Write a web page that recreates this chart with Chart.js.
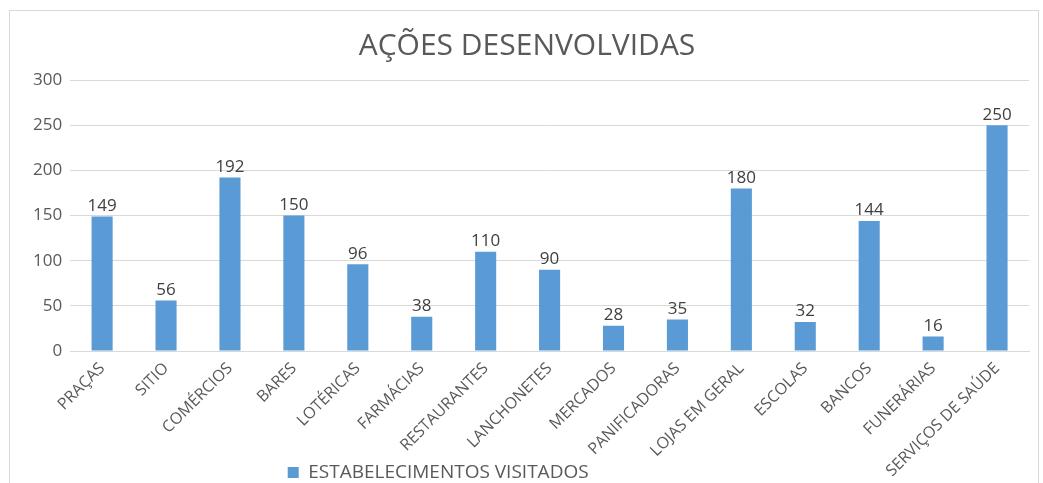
<!DOCTYPE html>
<html>
<head>
<meta charset="utf-8">
<script src="https://cdn.jsdelivr.net/npm/chart.js@4/dist/chart.umd.min.js"></script>
<style>
  html, body { margin: 0; padding: 0; background: #fff; }
  #wrap { width: 1043px; height: 483px; position: relative; }
</style>
</head>
<body>
<div id="wrap"><canvas id="c" width="1043" height="483"></canvas></div>
<script>
const categories = ['PRAÇAS', 'SITIO', 'COMÉRCIOS', 'BARES', 'LOTÉRICAS', 'FARMÁCIAS', 'RESTAURANTES',
  'LANCHONETES', 'MERCADOS', 'PANIFICADORAS', 'LOJAS EM GERAL', 'ESCOLAS', 'BANCOS', 'FUNERÁRIAS', 'SERVIÇOS DE SAÚDE'];
const visited = [149, 56, 192, 150, 96, 38, 110, 90, 28, 35, 180, 32, 144, 16, 250];
const yTicks = [0, 50, 100, 150, 200, 250, 300];

const FONT = "'Open Sans', 'Noto Sans', sans-serif";

// draws the number above each bar
const barValues = {
  id: 'barValues',
  afterDatasetsDraw(chart) {
    const ctx = chart.ctx;
    ctx.save();
    ctx.font = '17px ' + FONT;
    ctx.fillStyle = '#404040';
    ctx.textAlign = 'center';
    ctx.textBaseline = 'bottom';
    chart.getDatasetMeta(0).data.forEach((bar, i) => {
      ctx.fillText(String(visited[i]), bar.x, bar.y - 2);
    });
    ctx.restore();
  }
};

// light frame like the office chart area
const frame = {
  id: 'frame',
  beforeDraw(chart) {
    const ctx = chart.ctx;
    ctx.save();
    ctx.strokeStyle = '#d9d9d9';
    ctx.lineWidth = 1;
    ctx.strokeRect(9.5, 10.5, chart.width - 14, chart.height + 10);
    ctx.restore();
  }
};

new Chart(document.getElementById('c'), {
  type: 'bar',
  data: {
    labels: categories,
    datasets: [{
      label: 'ESTABELECIMENTOS VISITADOS',
      data: visited,
      backgroundColor: '#5b9bd5',
      borderWidth: 0,
      barPercentage: 0.33,
      categoryPercentage: 1
    }]
  },
  options: {
    responsive: false,
    animation: false,
    layout: { padding: { left: 25, right: 14, top: 28, bottom: -9 } },
    plugins: {
      title: {
        display: true,
        text: 'AÇÕES DESENVOLVIDAS',
        color: '#595959',
        font: { family: FONT, size: 30, weight: 'normal' },
        padding: { top: 0, bottom: 16 }
      },
      legend: {
        position: 'bottom',
        labels: {
          color: '#595959',
          font: { family: FONT, size: 19, lineHeight: 1 },
          boxWidth: 11,
          boxHeight: 11,
          padding: 0,
          // legend sits left of centre in the original, pad the text on the right
          generateLabels(chart) {
            const items = Chart.defaults.plugins.legend.labels.generateLabels(chart);
            items.forEach(it => { it.text = it.text + '\u00a0'.repeat(36); });
            return items;
          }
        }
      },
      tooltip: { enabled: false }
    },
    scales: {
      x: {
        grid: { display: false },
        border: { color: '#d9d9d9' },
        afterFit(scale) {
          scale.height = 112;
          scale._computeLabelArea = () => null; // let long labels run past the axis box
        },
        ticks: {
          color: '#595959',
          font: { family: FONT, size: 16 },
          minRotation: 45,
          maxRotation: 45,
          autoSkip: false,
          padding: 0
        }
      },
      y: {
        min: 0,
        max: 300,
        afterBuildTicks(axis) { axis.ticks = yTicks.map(v => ({ value: v })); },
        grid: { color: '#d9d9d9', drawTicks: false },
        border: { display: false },
        ticks: {
          color: '#595959',
          font: { family: FONT, size: 17 },
          padding: 8
        }
      }
    }
  },
  plugins: [barValues, frame]
});
</script>
</body>
</html>
